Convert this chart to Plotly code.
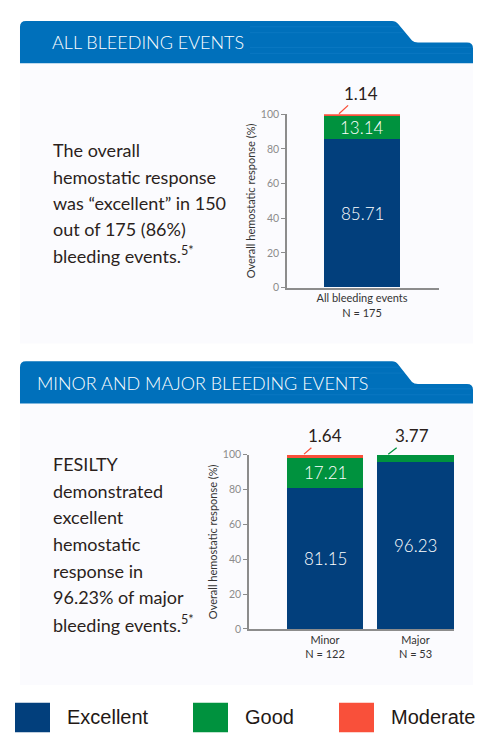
import plotly.graph_objects as go

# ---------------- data ----------------
categories_all = ["All bleeding events<br>N = 175"]
excellent_all = [85.71]
good_all = [13.14]
moderate_all = [1.14]

categories_split = ["Minor<br>N = 122", "Major<br>N = 53"]
excellent_split = [81.15, 96.23]
good_split = [17.21, 3.77]
moderate_split = [1.64, 0]

series_names = ["Excellent", "Good", "Moderate"]
series_colors = ["#023f7c", "#00923e", "#f9503a"]

y_ticks = [0, 20, 40, 60, 80, 100]
y_title = "Overall hemostatic response (%)"

header_1 = "ALL BLEEDING EVENTS"
header_2 = "MINOR AND MAJOR BLEEDING EVENTS"
para_1 = ["The overall", "hemostatic response", "was \u201cexcellent\u201d in 150",
          "out of 175 (86%)", "bleeding events.<sup>5*</sup>"]
para_2 = ["FESILTY", "demonstrated", "excellent", "hemostatic", "response in",
          "96.23% of major", "bleeding events.<sup>5*</sup>"]

# ---------------- helpers ----------------
# page body has an 8px margin; the figure is sized to fill the rest of the window
OFF = 8
W, H = 492 - OFF, 750 - OFF
def px(x):
    return (x - OFF) / W
def py(y):
    return 1 - (y - OFF) / H

TEXT = "#2b1f1c"
FONT = "Lato"

fig = go.Figure()

for name, vals, color in zip(series_names, [excellent_all, good_all, moderate_all], series_colors):
    fig.add_trace(go.Bar(
        x=categories_all, y=vals, name=name, marker=dict(color=color, line=dict(width=0)),
        width=0.8, xaxis="x", yaxis="y", showlegend=False, hoverinfo="skip"))

for name, vals, color in zip(series_names, [excellent_split, good_split, moderate_split], series_colors):
    fig.add_trace(go.Bar(
        x=categories_split, y=vals, name=name, marker=dict(color=color, line=dict(width=0)),
        width=0.84, xaxis="x2", yaxis="y2", showlegend=False, hoverinfo="skip"))

axis_common_y = dict(
    range=[0, 100], tickvals=y_ticks, ticks="outside", ticklen=4, tickcolor="#8c8c8c",
    showline=True, linecolor="#8c8c8c", linewidth=1.5, showgrid=False, zeroline=False,
    tickfont=dict(size=10.5, color="#8c8c8c", family=FONT),
    title=dict(text=y_title, font=dict(size=11, color="#333333", family=FONT), standoff=3),
    fixedrange=True)
axis_common_x = dict(
    showline=True, linecolor="#8c8c8c", linewidth=1.5, ticks="", showgrid=False,
    tickfont=dict(size=11, color="#333333", family=FONT), fixedrange=True)

# chart 1 : axis from x=287..439 px, bar center 362, y 0 at 286, 100 at 110
u1 = 95.0
r1 = [-(362 - 287) / u1, (439 - 362) / u1]
# chart 2 : axis from x=249..454 px, bar centers 325 & 415.5, y 0 at 633, 100 at 456
u2 = 90.5
r2 = [-(325 - 249) / u2, (454 - 325) / u2]

shapes = []
# panels
shapes.append(dict(type="rect", xref="paper", yref="paper", x0=px(20), x1=px(473), y0=py(343), y1=py(58),
                   fillcolor="#fbfbfe", line=dict(width=0), layer="below"))
shapes.append(dict(type="rect", xref="paper", yref="paper", x0=px(20), x1=px(473), y0=py(690), y1=py(404),
                   fillcolor="#fbfbfe", line=dict(width=0), layer="below"))

def header_path(top, step, bottom, left=20, right=473, sx0=396, sx1=414, r=6):
    def P(x, y):
        return f"{px(x):.5f},{py(y):.5f}"
    d = f"M {P(left, bottom)} L {P(left, top + r)} Q {P(left, top)} {P(left + r, top)} "
    d += f"L {P(sx0 - 4, top)} Q {P(sx0, top)} {P(sx0 + 2, top + 3)} "
    d += f"L {P(sx1 - 2, step - 2)} Q {P(sx1, step)} {P(sx1 + 4, step)} "
    d += f"L {P(right - r, step)} Q {P(right, step)} {P(right, step + r)} "
    d += f"L {P(right, bottom)} Z"
    return d

for top, step, bottom in [(15, 37, 58), (361, 384, 404)]:
    shapes.append(dict(type="path", xref="paper", yref="paper", path=header_path(top, step, bottom),
                       fillcolor="#0070bb", line=dict(width=0), layer="below"))
    for yy in [top + 6, top + 12, step + 5, step + 11]:
        x_end = 394 + (yy - top) * 0.8 if yy < step else 471
        shapes.append(dict(type="line", xref="paper", yref="paper", x0=px(250), x1=px(min(x_end, 471)),
                           y0=py(yy), y1=py(yy), line=dict(color="#0a78c2", width=1), layer="below"))

# legend swatches
legend_x = [15, 193, 339]
for x0, color in zip(legend_x, series_colors):
    shapes.append(dict(type="rect", xref="paper", yref="paper", x0=px(x0), x1=px(x0 + 35),
                       y0=py(738), y1=py(708), fillcolor=color, line=dict(width=0)))

annotations = []
annotations.append(dict(text=header_1, x=px(50), y=py(36), xref="paper", yref="paper",
                        xanchor="left", yanchor="middle", showarrow=False,
                        font=dict(size=18, color="white", family=FONT, weight=300)))
annotations.append(dict(text=header_2, x=px(35), y=py(383), xref="paper", yref="paper",
                        xanchor="left", yanchor="middle", showarrow=False,
                        font=dict(size=18, color="white", family=FONT, weight=300)))

for i, line in enumerate(para_1):
    annotations.append(dict(text=line, x=px(51), y=py(146.5 + i * 26.7), xref="paper", yref="paper",
                            xanchor="left", yanchor="middle", showarrow=False,
                            font=dict(size=18, color=TEXT, family=FONT)))
for i, line in enumerate(para_2):
    annotations.append(dict(text=line, x=px(51), y=py(465.5 + i * 27.1), xref="paper", yref="paper",
                            xanchor="left", yanchor="middle", showarrow=False,
                            font=dict(size=18, color=TEXT, family=FONT)))

# in-bar value labels (segments large enough to hold them)
def inside_labels(cats, stacks, xref, yref):
    out = []
    for j, cat in enumerate(cats):
        base = 0.0
        for vals in stacks:
            v = vals[j]
            if v >= 5:
                out.append(dict(text=f"{v:.2f}", x=cat, y=base + v / 2, xref=xref, yref=yref,
                                showarrow=False, xanchor="center", yanchor="middle",
                                font=dict(size=17, color="white", family=FONT, weight=300)))
            base += v
    return out

annotations += inside_labels(categories_all, [excellent_all, good_all, moderate_all], "x", "y")
annotations += inside_labels(categories_split, [excellent_split, good_split, moderate_split], "x2", "y2")

def top_of(*vals):
    # keep the anchor inside the 0-100 axis range (float sums can exceed 100 slightly)
    return min(round(sum(vals), 2), 99.99)

# small-segment callouts
annotations.append(dict(text=f"{moderate_all[0]:.2f}", x=-0.25,
                        y=top_of(excellent_all[0], good_all[0], moderate_all[0]), xref="x", yref="y",
                        ax=23, ay=-21, showarrow=True, arrowhead=0, arrowwidth=1.3,
                        arrowcolor=series_colors[2], standoff=1,
                        font=dict(size=17, color=TEXT, family=FONT)))
annotations.append(dict(text=f"{moderate_split[0]:.2f}", x=-0.24,
                        y=top_of(excellent_split[0], good_split[0], moderate_split[0]), xref="x2", yref="y2",
                        ax=22, ay=-19, showarrow=True, arrowhead=0, arrowwidth=1.3,
                        arrowcolor=series_colors[2], standoff=1,
                        font=dict(size=17, color=TEXT, family=FONT)))
annotations.append(dict(text=f"{good_split[1]:.2f}", x=0.69,
                        y=top_of(excellent_split[1], good_split[1], moderate_split[1]), xref="x2", yref="y2",
                        ax=25, ay=-19, showarrow=True, arrowhead=0, arrowwidth=1.3,
                        arrowcolor=series_colors[1], standoff=1,
                        font=dict(size=17, color=TEXT, family=FONT)))

# legend labels
legend_text_x = [65, 243, 389]
for tx, name in zip(legend_text_x, series_names):
    annotations.append(dict(text=name, x=px(tx), y=py(723), xref="paper", yref="paper",
                            xanchor="left", yanchor="middle", showarrow=False,
                            font=dict(size=20, color="#231815", family="Liberation Sans")))

fig.update_layout(
    width=W, height=H, autosize=False,
    margin=dict(l=0, r=0, t=0, b=0),
    paper_bgcolor="white", plot_bgcolor="rgba(0,0,0,0)",
    barmode="stack", bargap=0,
    xaxis=dict(domain=[px(287), px(439)], anchor="y", range=r1, **axis_common_x),
    yaxis=dict(domain=[py(286), py(110)], anchor="x", **axis_common_y),
    xaxis2=dict(domain=[px(249), px(454)], anchor="y2", range=r2, **axis_common_x),
    yaxis2=dict(domain=[py(633), py(456)], anchor="x2", **axis_common_y),
    shapes=shapes, annotations=annotations,
    showlegend=False,
)

fig.write_html("out.html", config={"displayModeBar": False})
